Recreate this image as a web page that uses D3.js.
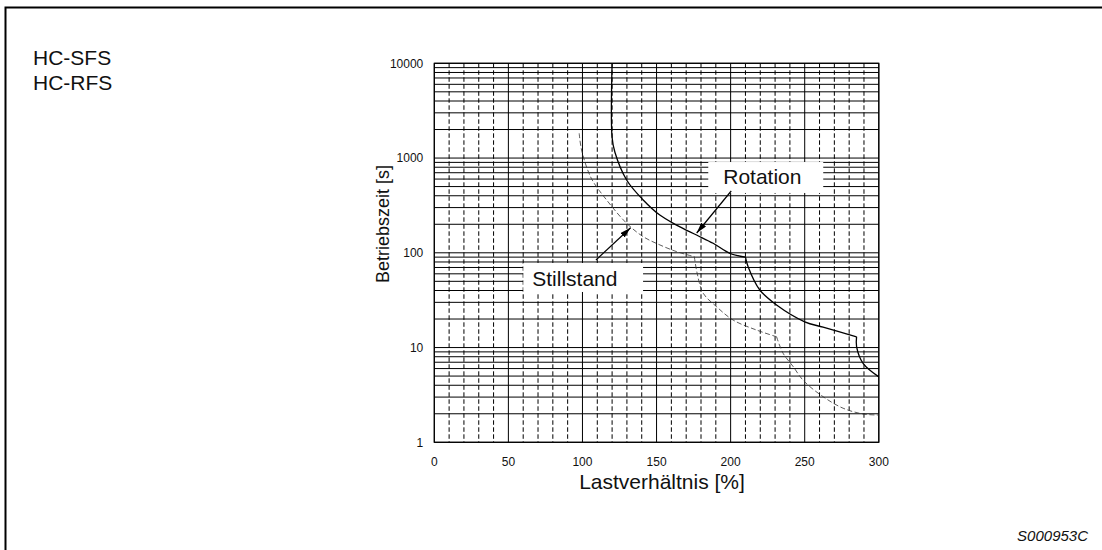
<!DOCTYPE html>
<html><head><meta charset="utf-8">
<script src="https://cdn.jsdelivr.net/npm/d3@7"></script>
<style>
body{margin:0;background:#fff}
svg{display:block}
text{font-family:"Liberation Sans",Arial,Helvetica,sans-serif;fill:#111}
</style>
</head><body>
<svg id="c" width="1102" height="550"></svg>
<script>
// ---- data ----
const xTicks = [0, 50, 100, 150, 200, 250, 300];
const xTickLabels = ["0", "50", "100", "150", "200", "250", "300"];
const yTicks = [1, 10, 100, 1000, 10000];
const yTickLabels = ["1", "10", "100", "1000", "10000"];

// Rotation (solid) – three pieces split at the kinks
const rotationLoad1 = [120, 120, 121.9, 129.8, 141, 152.2, 163.5, 177, 188.2, 199.5, 210];
const rotationTime1 = [10000, 1650, 1150, 587, 361, 250, 196, 154, 126, 98.8, 90];
const rotationLoad2 = [210, 211.8, 219.7, 231, 250, 262.4, 285];
const rotationTime2 = [90, 71.3, 40.5, 28.1, 18.7, 16.4, 13.0];
const rotationLoad3 = [285, 285, 289.4, 300];
const rotationTime3 = [13.0, 10.2, 6.8, 4.9];

// Stillstand (dashed)
const stillLoad1 = [97.8, 99.4, 106, 116.3, 129.8, 141, 152.3, 163.5, 175.5];
const stillTime1 = [1824, 1216, 610, 361, 205, 148, 121, 103, 91];
const stillLoad2 = [175.5, 177.4, 181.5, 190.5, 201.7, 217.5, 231];
const stillTime2 = [91, 60.8, 37.4, 27, 19.5, 15.3, 13.0];
const stillLoad3 = [231, 235.4, 242.2, 249, 262.4, 275.9, 289.4, 300];
const stillTime3 = [13.0, 8.7, 6.3, 4.5, 3.03, 2.29, 1.99, 1.94];

// annotations (in data units)
const labelNames = ["Rotation", "Stillstand"];
const labelBoxLoad = [[184.9, 262.5], [60.1, 140.9]];
const labelBoxTime = [[908, 428], [78.1, 38.6]];
const labelTextLoad = [195.0, 66.1];
const labelTextTime = [532, 44.6];
const arrowFrom = [[200.4, 449], [109.1, 84]];
const arrowTo = [[177.1, 161.8], [132.5, 184]];

const modelLines = ["HC-SFS", "HC-RFS"];
const xTitle = "Lastverhältnis [%]";
const yTitle = "Betriebszeit [s]";
const figId = "S000953C";

// ---- drawing ----
const svg = d3.select("#c");
svg.append("rect").attr("width", 1102).attr("height", 550).attr("fill", "#fff");

// outer frame
svg.append("path").attr("d", "M5.5,550V7.5H1102").attr("fill", "none")
  .attr("stroke", "#000").attr("stroke-width", 2);

const x = d3.scaleLinear().domain([0, 300]).range([434.3, 878.8]);
const y = d3.scaleLog().domain([1, 10000]).range([442.3, 63.3]);

const g = svg.append("g");

// horizontal grid 1..9 x 10^k
const hLines = [];
[1, 10, 100, 1000].forEach(d => { for (let m = 1; m <= 9; m++) hLines.push(d * m); });
hLines.push(10000);
g.selectAll("line.h").data(hLines).join("line")
  .attr("x1", x(0)).attr("x2", x(300))
  .attr("y1", d => y(d)).attr("y2", d => y(d))
  .attr("stroke", "#000").attr("stroke-width", 1);

// vertical grid every 10 %
const vLines = d3.range(0, 301, 10);
g.selectAll("line.v").data(vLines).join("line")
  .attr("x1", d => x(d)).attr("x2", d => x(d))
  .attr("y1", y(10000)).attr("y2", y(1))
  .attr("stroke", "#000").attr("stroke-width", 1)
  .attr("stroke-dasharray", d => d % 50 === 0 ? null : "4.5,2.5");

// plot frame
g.append("rect").attr("x", x(0)).attr("y", y(10000))
  .attr("width", x(300) - x(0)).attr("height", y(1) - y(10000))
  .attr("fill", "none").attr("stroke", "#000").attr("stroke-width", 1.2);

// curves
const line = d3.line().x(d => x(d[0])).y(d => y(d[1])).curve(d3.curveCatmullRom.alpha(0.5));
const zip = (a, b) => a.map((v, i) => [v, b[i]]);
[[rotationLoad1, rotationTime1], [rotationLoad2, rotationTime2], [rotationLoad3, rotationTime3]]
  .forEach(([l, t]) => {
    g.append("path").attr("d", line(zip(l, t))).attr("fill", "none")
      .attr("stroke", "#000").attr("stroke-width", 1.3);
  });
[[stillLoad1, stillTime1], [stillLoad2, stillTime2], [stillLoad3, stillTime3]]
  .forEach(([l, t]) => {
    g.append("path").attr("d", line(zip(l, t))).attr("fill", "none")
      .attr("stroke", "#333").attr("stroke-width", 0.8).attr("stroke-dasharray", "5,2.5");
  });

// label boxes & arrows
const defs = svg.append("defs");
defs.append("marker").attr("id", "ah").attr("viewBox", "0 0 11 6")
  .attr("refX", 11).attr("refY", 3).attr("markerWidth", 11).attr("markerHeight", 6)
  .attr("markerUnits", "userSpaceOnUse").attr("orient", "auto")
  .append("path").attr("d", "M0,0L11,3L0,6Z").attr("fill", "#000");

labelNames.forEach((name, i) => {
  g.append("rect")
    .attr("x", x(labelBoxLoad[i][0])).attr("y", y(labelBoxTime[i][0]))
    .attr("width", x(labelBoxLoad[i][1]) - x(labelBoxLoad[i][0]))
    .attr("height", y(labelBoxTime[i][1]) - y(labelBoxTime[i][0]))
    .attr("fill", "#fff");
  g.append("text").attr("x", x(labelTextLoad[i])).attr("y", y(labelTextTime[i]))
    .attr("font-size", 21).text(name);
  g.append("line")
    .attr("x1", x(arrowFrom[i][0])).attr("y1", y(arrowFrom[i][1]))
    .attr("x2", x(arrowTo[i][0])).attr("y2", y(arrowTo[i][1]))
    .attr("stroke", "#000").attr("stroke-width", 1.2).attr("marker-end", "url(#ah)");
});

// tick labels
svg.selectAll("text.yt").data(yTicks).join("text")
  .attr("x", x(0) - 11).attr("y", d => y(d)).attr("dy", "0.35em")
  .attr("text-anchor", "end").attr("font-size", 12)
  .text((d, i) => yTickLabels[i]);
svg.selectAll("text.xt").data(xTicks).join("text")
  .attr("x", d => x(d)).attr("y", y(1) + 24)
  .attr("text-anchor", "middle").attr("font-size", 12)
  .text((d, i) => xTickLabels[i]);

// axis titles
svg.append("text").attr("x", 662).attr("y", 489).attr("text-anchor", "middle")
  .attr("font-size", 21).text(xTitle);
svg.append("text").attr("transform", "translate(389,224) rotate(-90)")
  .attr("text-anchor", "middle").attr("font-size", 18).text(yTitle);

// model labels
modelLines.forEach((t, i) => {
  svg.append("text").attr("x", 33).attr("y", 65 + i * 25).attr("font-size", 21).text(t);
});

svg.append("text").attr("x", 1088).attr("y", 541).attr("text-anchor", "end")
  .attr("font-size", 15).attr("font-style", "italic").text(figId);
</script>
</body></html>
